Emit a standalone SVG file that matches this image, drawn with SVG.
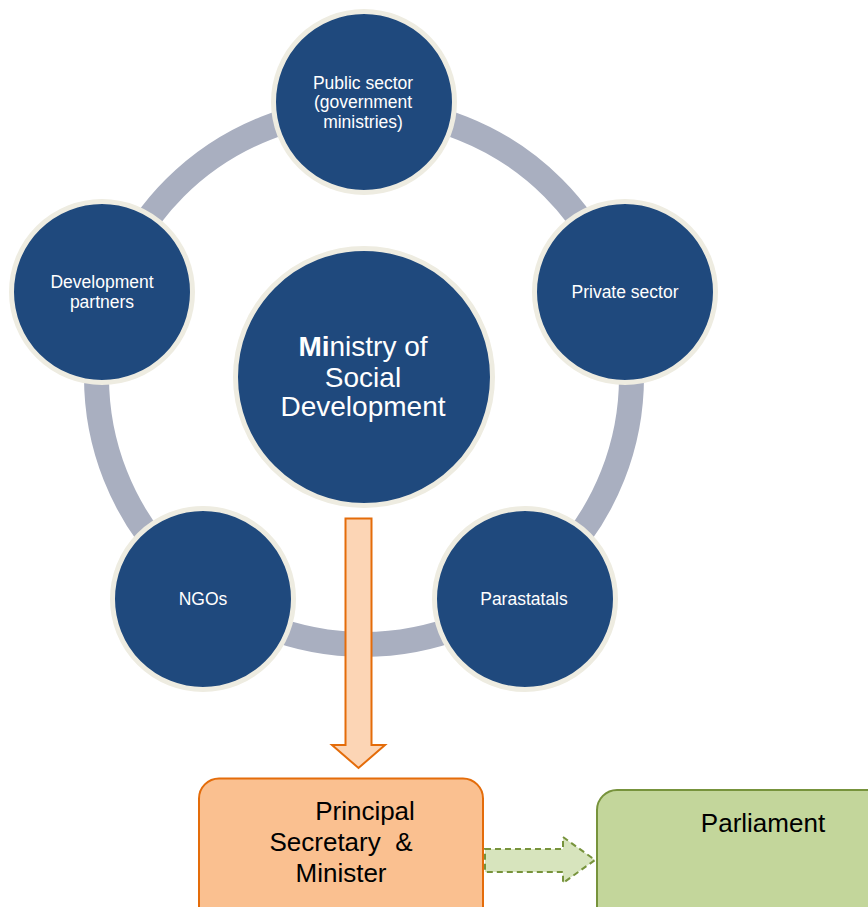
<svg xmlns="http://www.w3.org/2000/svg" width="868" height="907" viewBox="0 0 868 907">
<style>
.node{fill:#1F497D;stroke:#EEECE1;stroke-width:5}
.wt{fill:#FFFFFF;font-family:"Liberation Sans",Arial,sans-serif;font-size:17.5px;text-anchor:middle}
.bt{fill:#000000;font-family:"Liberation Sans",Arial,sans-serif;font-size:26px;text-anchor:middle}
</style>
<rect width="868" height="907" fill="#FFFFFF"/>
<g id="connectors">
<circle cx="364" cy="377" r="267.5" fill="none" stroke="#A9AFC0" stroke-width="25"/>
</g>
<g id="n-public">
<circle class="node" cx="364" cy="102" r="90.5"/>
<text class="wt" x="363" y="89">Public sector</text>
<text class="wt" x="363" y="108">(government</text>
<text class="wt" x="363" y="128">ministries)</text>
</g>
<g id="n-private">
<circle class="node" cx="625" cy="292" r="90.5"/>
<text class="wt" x="625" y="298">Private sector</text>
</g>
<g id="n-parastatals">
<circle class="node" cx="525" cy="599" r="90.5"/>
<text class="wt" x="524" y="605">Parastatals</text>
</g>
<g id="n-ngos">
<circle class="node" cx="203" cy="599" r="90.5"/>
<text class="wt" x="203" y="605">NGOs</text>
</g>
<g id="n-devpartners">
<circle class="node" cx="102" cy="292" r="90.5"/>
<text class="wt" x="102" y="288">Development</text>
<text class="wt" x="102" y="308">partners</text>
</g>
<g id="n-ministry">
<circle class="node" cx="364" cy="377" r="128.5"/>
<text class="wt" style="font-size:28px" x="363" y="356"><tspan font-weight="bold">Mi</tspan>nistry of</text>
<text class="wt" style="font-size:28px" x="363" y="387">Social</text>
<text class="wt" style="font-size:28px" x="363" y="416">Development</text>
</g>
<g id="arrows">
<path d="M345.5,518.5 H371.5 V745 H385 L358.5,768 L332,745 H345.5 Z" fill="#FCD5B5" stroke="#E46C0A" stroke-width="2"/>
<path d="M485,849 H563 V837 L595,860 L563,883 V872 H485 Z" fill="#D7E4BD" stroke="#77933C" stroke-width="2" stroke-dasharray="6,4"/>
</g>
<g id="n-principal">
<rect x="199" y="778.5" width="284" height="150" rx="20" fill="#FAC090" stroke="#E46C0A" stroke-width="2"/>
<text class="bt" x="365" y="820">Principal</text>
<text class="bt" x="341" y="851" xml:space="preserve">Secretary  &amp;</text>
<text class="bt" x="341" y="882">Minister</text>
</g>
<g id="n-parliament">
<rect x="597" y="790" width="300" height="150" rx="20" fill="#C3D69B" stroke="#77933C" stroke-width="2"/>
<text class="bt" x="763" y="832">Parliament</text>
</g>
</svg>
